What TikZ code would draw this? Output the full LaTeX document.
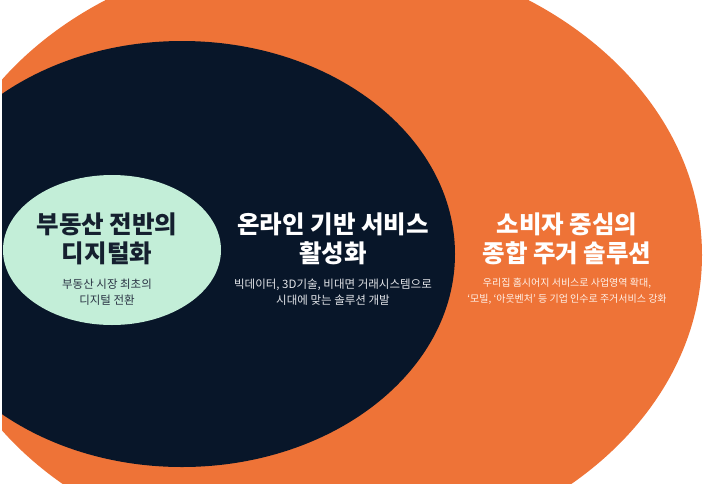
\documentclass[tikz,border=0pt]{standalone}
\usepackage{fontspec}
\setmainfont{Noto Sans CJK KR}
\definecolor{orangebg}{HTML}{EE7337}
\definecolor{navybg}{HTML}{081629}
\definecolor{mintbg}{HTML}{C3EED8}
\definecolor{inkdark}{HTML}{15202F}
\definecolor{inkgrey}{HTML}{2A3444}
\definecolor{paleline}{HTML}{E4E6EA}
\definecolor{warmline}{HTML}{FFF1E8}
\begin{document}
\begin{tikzpicture}[x=1pt,y=-1pt,
    headline/.style={align=center,inner sep=0pt,font=\fontsize{24.5}{29.5}\selectfont\bfseries},
    subline/.style={align=center,inner sep=0pt,font=\fontsize{11.5}{16}\selectfont}]
  \useasboundingbox (0,0) rectangle (726,483);
  \clip (2,0) rectangle (726,483);
  % three nested ellipses
  \fill[orangebg] (317,255) ellipse [x radius=385, y radius=305];
  \fill[navybg] (182,254) ellipse [x radius=273, y radius=213];
  \fill[mintbg] (112,250) ellipse [x radius=109, y radius=75];
  % mint: digitalisation
  \node[headline,text=inkdark] (minthead) at (107,239) {부동산 전반의\\디지털화};
  \node[subline,text=inkgrey] (mintsub) at (107,292) {부동산 시장 최초의\\디지털 전환};
  % navy: online services
  \node[headline,text=white] (navyhead) at (333,239) {온라인 기반 서비스\\활성화};
  \node[subline,text=paleline] (navysub) at (333,292) {빅데이터, 3D기술, 비대면 거래시스템으로\\시대에 맞는 솔루션 개발};
  % orange: housing solutions
  \node[headline,text=white] (orangehead) at (567,239) {소비자 중심의\\종합 주거 솔루션};
  \node[subline,text=warmline,font=\fontsize{10}{16}\selectfont] (orangesub) at (567,291) {우리집 홈시어지 서비스로 사업영역 확대,\\‘모빌, ‘아웃벤처’ 등 기업 인수로 주거서비스 강화};
\end{tikzpicture}
\end{document}
